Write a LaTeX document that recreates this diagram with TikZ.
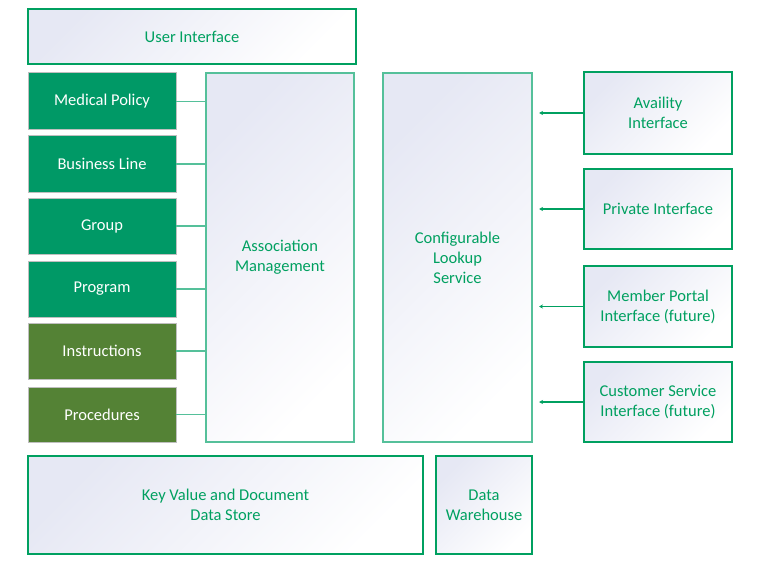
\documentclass[tikz,border=0pt]{standalone}
\usepackage{fontspec}
\setmainfont{Carlito}
\usetikzlibrary{arrows.meta,calc}
\definecolor{bgreen}{HTML}{00A060}
\definecolor{lgreen}{HTML}{55C09A}
\definecolor{tgreen}{HTML}{00A060}
\definecolor{lav}{HTML}{E6E8F4}
\definecolor{dgreen}{HTML}{009966}
\definecolor{ogreen}{HTML}{548235}
\definecolor{gborder}{HTML}{BFBFBF}
\begin{document}
\begin{tikzpicture}[x=1pt,y=-1pt,
  txt/.style={font=\fontsize{16.5}{20}\selectfont, align=center, inner sep=0pt, outer sep=0pt},
  box/.style={txt, draw=bgreen, line width=1.2pt, top color=lav, bottom color=white, shading angle=45, text=tgreen},
  lbox/.style={box, draw=lgreen},
  dbox/.style={txt, draw=gborder, line width=1pt, fill=dgreen, text=white},
  obox/.style={dbox, fill=ogreen},
  conn/.style={draw=lgreen, line width=1.2pt},
  arr/.style={draw=bgreen, line width=1.1pt, -{Stealth[length=4pt,width=4pt]}}]
\useasboundingbox (0,0) rectangle (762,564);
\node[box, minimum width=328pt, minimum height=55pt] (ui) at (192,36.5) {User Interface};
\node[dbox, minimum width=148pt, minimum height=57pt] (med) at (102,101.5) {Medical Policy};
\node[dbox, minimum width=148pt, minimum height=56pt] (bus) at (102,164) {Business Line};
\node[dbox, minimum width=148pt, minimum height=56pt] (grp) at (102,226) {Group};
\node[dbox, minimum width=148pt, minimum height=56pt] (prg) at (102,289) {Program};
\node[obox, minimum width=148pt, minimum height=56pt] (ins) at (102,351) {Instructions};
\node[obox, minimum width=148pt, minimum height=55pt] (pro) at (102,414.5) {Procedures};
\node[lbox, minimum width=148pt, minimum height=369pt] (am) at (280,257.5) {Association\\Management};
\node[lbox, minimum width=149pt, minimum height=369pt] (lk) at (457.5,257.5) {Configurable\\Lookup\\Service};
\node[box, minimum width=148pt, minimum height=82pt] (av) at (658,113) {Availity\\Interface};
\node[box, minimum width=148pt, minimum height=80pt] (pi) at (658,209) {Private Interface};
\node[box, minimum width=148pt, minimum height=81pt] (mp) at (658,306.5) {Member Portal\\Interface (future)};
\node[box, minimum width=148pt, minimum height=80pt] (cs) at (658,402) {Customer Service\\Interface (future)};
\node[box, minimum width=395pt, minimum height=98pt] (kv) at (225.5,505) {Key Value and Document\\Data Store};
\node[box, minimum width=96pt, minimum height=98pt] (dw) at (484,505) {Data\\Warehouse};
\foreach \n in {med,bus,grp,prg,ins,pro}{
  \draw[conn] (\n.east) -- (\n.east -| am.west);
}
\foreach \n/\k in {av/1,pi/2,mp/3,cs/4}{
  \coordinate (t\k) at ($(\n.west -| lk.east)+(7,0)$);
  \draw[arr] (\n.west) -- (t\k);
}
\end{tikzpicture}
\end{document}
